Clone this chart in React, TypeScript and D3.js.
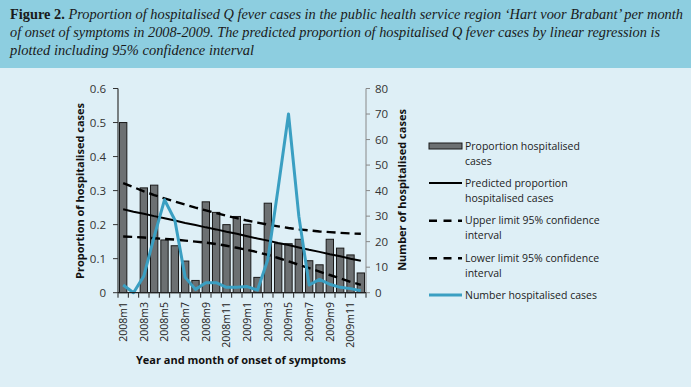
import React from "react";
import * as d3 from "d3";

const months = [
  "2008m1","2008m2","2008m3","2008m4","2008m5","2008m6","2008m7","2008m8","2008m9","2008m10","2008m11","2008m12",
  "2009m1","2009m2","2009m3","2009m4","2009m5","2009m6","2009m7","2009m8","2009m9","2009m10","2009m11","2009m12",
];
const proportion = [0.5,0,0.308,0.316,0.155,0.138,0.093,0.036,0.267,0.236,0.2,0.224,0.201,0.045,0.263,0.144,0.144,0.157,0.094,0.082,0.157,0.131,0.111,0.058];
const predicted = [0.245,0.238,0.232,0.225,0.219,0.212,0.205,0.199,0.192,0.186,0.179,0.173,0.166,0.159,0.153,0.146,0.140,0.133,0.126,0.120,0.113,0.107,0.100,0.094];
const upper = [0.322,0.310,0.298,0.287,0.277,0.268,0.259,0.250,0.242,0.234,0.226,0.219,0.212,0.206,0.200,0.195,0.190,0.186,0.183,0.180,0.178,0.176,0.174,0.173];
const lower = [0.165,0.164,0.162,0.160,0.158,0.156,0.153,0.150,0.147,0.143,0.138,0.132,0.126,0.119,0.111,0.102,0.092,0.082,0.072,0.062,0.052,0.042,0.032,0.023];
const counts = [3,0,6.5,22,36.4,28.5,6,1.3,3.9,3.9,2.1,2.1,2.4,1,13,41,70,30,3,5.2,3.3,2.1,1.6,0.8];
const leftTicks = [0,0.1,0.2,0.3,0.4,0.5,0.6];
const rightTicks = [0,10,20,30,40,50,60,70,80];
const legendItems = [
  { kind: "bar", lines: ["Proportion hospitalised", "cases"] },
  { kind: "solid", lines: ["Predicted proportion", "hospitalised cases"] },
  { kind: "dash", lines: ["Upper limit 95% confidence", "interval"] },
  { kind: "dash", lines: ["Lower limit 95% confidence", "interval"] },
  { kind: "blue", lines: ["Number hospitalised cases"] },
];

const FONT = "'Open Sans', sans-serif";
const SERIF = "'Liberation Serif', 'DejaVu Serif', serif";
const BLUE = "#3a9fc2";

export default function App() {
  const x = d3.scaleBand<string>().domain(months).range([118, 366]).paddingInner(0.29).paddingOuter(0.145);
  const yL = d3.scaleLinear().domain([0, 0.6]).range([292.7, 88.5]);
  const yR = d3.scaleLinear().domain([0, 80]).range([292.7, 88.5]);
  const cx = (m: string) => (x(m) as number) + x.bandwidth() / 2;
  const lineP = d3.line<number>().x((_, i) => cx(months[i])).y((d) => yL(d));
  const lineC = d3.line<number>().x((_, i) => cx(months[i])).y((d) => yR(d));
  const step = x.step();

  return (
    <svg width={695} height={389} style={{ position: "absolute", left: 0, top: 0, display: "block" }}>
      <rect x={0} y={0} width={691} height={68} fill="#8dcee0" />
      <rect x={0} y={68} width={691} height={319} fill="#deeff6" />
      <g fontFamily={SERIF} fill="#1a1a1a" fontSize={14.5}>
        <text x={10} y={19} textLength={673} lengthAdjust="spacingAndGlyphs">
          <tspan fontWeight="bold">Figure 2.</tspan>
          <tspan fontStyle="italic"> Proportion of hospitalised Q fever cases in the public health service region ‘Hart voor Brabant’ per month</tspan>
        </text>
        <text x={10} y={37} textLength={650} lengthAdjust="spacingAndGlyphs" fontStyle="italic">
          of onset of symptoms in 2008-2009. The predicted proportion of hospitalised Q fever cases by linear regression is
        </text>
        <text x={10} y={55} textLength={244} lengthAdjust="spacingAndGlyphs" fontStyle="italic">
          plotted including 95% confidence interval
        </text>
      </g>

      {/* bars */}
      <g>
        {proportion.map((v, i) =>
          v > 0 ? (
            <rect key={i} x={x(months[i])} y={yL(v)} width={x.bandwidth()} height={yL(0) - yL(v)}
              fill="#6c7072" stroke="#1a1a1a" strokeWidth={1} />
          ) : null
        )}
      </g>

      {/* regression lines */}
      <path d={lineP(predicted) as string} fill="none" stroke="#000" strokeWidth={2} />
      <path d={lineP(upper) as string} fill="none" stroke="#000" strokeWidth={2.4} strokeDasharray="9,5" />
      <path d={lineP(lower) as string} fill="none" stroke="#000" strokeWidth={2.4} strokeDasharray="9,5" />
      <path d={lineC(counts) as string} fill="none" stroke={BLUE} strokeWidth={3} strokeLinejoin="round" />

      {/* left axis */}
      <g fontFamily={FONT} fontSize={11.5} fill="#333">
        <line x1={118} x2={118} y1={yL(0.6)} y2={yL(0)} stroke="#333" strokeWidth={1.2} />
        {leftTicks.map((t) => (
          <g key={t}>
            <line x1={113} x2={118} y1={yL(t)} y2={yL(t)} stroke="#333" />
            <text x={106} y={yL(t)} dy="0.35em" textAnchor="end">{t === 0 ? "0" : t.toFixed(1)}</text>
          </g>
        ))}
      </g>
      {/* right axis */}
      <g fontFamily={FONT} fontSize={11.5} fill="#333">
        <line x1={366} x2={366} y1={yR(80)} y2={yR(0)} stroke="#888" strokeWidth={1} />
        {rightTicks.map((t) => (
          <g key={t}>
            <line x1={366} x2={370} y1={yR(t)} y2={yR(t)} stroke="#888" />
            <text x={375} y={yR(t)} dy="0.35em" textAnchor="start">{t}</text>
          </g>
        ))}
      </g>
      {/* x axis */}
      <g fontFamily={FONT} fontSize={10.5} fill="#222">
        <line x1={118} x2={366} y1={yL(0)} y2={yL(0)} stroke="#222" strokeWidth={1.2} />
        {d3.range(months.length + 1).map((k) => (
          <line key={k} x1={118 + k * step} x2={118 + k * step} y1={yL(0)} y2={yL(0) + 5} stroke="#222" />
        ))}
        {months.map((m, i) =>
          i % 2 === 0 ? (
            <text key={m} transform={`translate(${cx(m)},302) rotate(-90)`} dy="0.35em" textAnchor="end">{m}</text>
          ) : null
        )}
      </g>

      {/* axis titles */}
      <g fontFamily={FONT} fontSize={11} fontWeight="bold" fill="#111">
        <text x={241} y={364} textAnchor="middle">Year and month of onset of symptoms</text>
        <text transform="translate(84,191) rotate(-90)" textAnchor="middle">Proportion of hospitalised cases</text>
        <text transform="translate(406,190) rotate(-90)" textAnchor="middle">Number of hospitalised cases</text>
      </g>

      {/* legend */}
      <g fontFamily={FONT} fontSize={10.5} fill="#222">
        {legendItems.map((it, i) => {
          const ys = [146, 183, 220.7, 258.3, 295][i];
          return (
            <g key={i}>
              {it.kind === "bar" && <rect x={429} y={ys - 3} width={33} height={6} fill="#6c7072" stroke="#1a1a1a" />}
              {it.kind === "solid" && <line x1={429} x2={462} y1={ys} y2={ys} stroke="#000" strokeWidth={2} />}
              {it.kind === "dash" && <line x1={429} x2={462} y1={ys} y2={ys} stroke="#000" strokeWidth={2.4} strokeDasharray="8,6.5" />}
              {it.kind === "blue" && <line x1={429} x2={462} y1={ys} y2={ys} stroke={BLUE} strokeWidth={3} />}
              {it.lines.map((l, j) => (
                <text key={j} x={465} y={ys + j * 15} dy="0.35em">{l}</text>
              ))}
            </g>
          );
        })}
      </g>
    </svg>
  );
}
